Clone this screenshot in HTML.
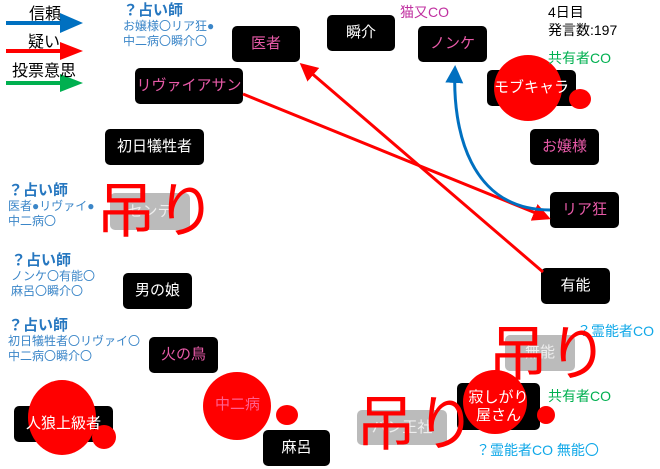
<!DOCTYPE html>
<html><head><meta charset="utf-8"><style>
body{margin:0;width:660px;height:469px;background:#fff;position:relative;overflow:hidden;font-family:"Liberation Sans","Noto Sans CJK JP",sans-serif}
.n{position:absolute;background:#000;border-radius:5px;color:#fff;font-size:15px;display:flex;align-items:center;justify-content:center;line-height:1.2;text-align:center}
.p{color:#e85aa8}
.g{background:#bbb;color:#eee}
.t{position:absolute;font-size:12px;color:#3b86c8;line-height:15px;white-space:nowrap}
.t b{font-size:15px;color:#2677c0}
.h{position:absolute;color:#f00;font-size:60px;font-weight:normal;line-height:1;white-space:nowrap}
.b{position:absolute;background:#f00;border-radius:50%}
svg{position:absolute;left:0;top:0}
</style></head><body>
<div class="n p" style="left:232px;top:26px;width:68px;height:36px">医者</div>
<div class="n" style="left:327px;top:15px;width:68px;height:36px">瞬介</div>
<div class="n p" style="left:418px;top:26px;width:69px;height:36px">ノンケ</div>
<div class="n" style="left:487px;top:70px;width:89px;height:36px">モブキャラ</div>
<div class="n p" style="left:530px;top:129px;width:69px;height:36px">お嬢様</div>
<div class="n p" style="left:550px;top:192px;width:69px;height:36px">リア狂</div>
<div class="n p" style="left:135px;top:68px;width:108px;height:36px">リヴァイアサン</div>
<div class="n" style="left:105px;top:129px;width:99px;height:36px">初日犠牲者</div>
<div class="n g" style="left:110px;top:193px;width:80px;height:37px">センテ</div>
<div class="n" style="left:123px;top:273px;width:69px;height:36px">男の娘</div>
<div class="n" style="left:541px;top:268px;width:69px;height:36px">有能</div>
<div class="n p" style="left:149px;top:337px;width:69px;height:36px">火の鳥</div>
<div class="n g" style="left:505px;top:335px;width:70px;height:36px">無能</div>
<div class="n" style="left:14px;top:406px;width:99px;height:36px">人狼上級者</div>
<div class="n" style="left:263px;top:430px;width:67px;height:36px">麻呂</div>
<div class="n g" style="left:357px;top:410px;width:90px;height:35px">パン王社</div>
<div class="n" style="left:457px;top:383px;width:83px;height:47px">寂しがり<br>屋さん</div>

<div class="b" style="left:494px;top:55px;width:68px;height:66px"></div>
<div class="b" style="left:569px;top:89px;width:22px;height:20px"></div>
<div class="b" style="left:28px;top:380px;width:68px;height:75px"></div>
<div class="b" style="left:92px;top:425px;width:24px;height:24px"></div>
<div class="b" style="left:203px;top:372px;width:68px;height:68px"></div>
<div class="b" style="left:276px;top:405px;width:22px;height:20px"></div>
<div class="b" style="left:463px;top:370px;width:64px;height:64px"></div>
<div class="b" style="left:537px;top:406px;width:18px;height:18px"></div>
<div class="n" style="left:487px;top:70px;width:89px;height:36px;background:none">モブキャラ</div>
<div class="n" style="left:14px;top:406px;width:99px;height:36px;background:none">人狼上級者</div>
<div class="n p" style="left:205px;top:387px;width:65px;height:36px;background:none;color:#ff6090">中二病</div>
<div class="n" style="left:457px;top:383px;width:83px;height:47px;background:none">寂しがり<br>屋さん</div>

<svg width="660" height="469">
<defs>
<marker id="r" markerWidth="6" markerHeight="6" refX="5" refY="3" orient="auto" markerUnits="strokeWidth"><path d="M0,0L6,3L0,6z" fill="#f00"/></marker>
<marker id="bl" markerWidth="6" markerHeight="6" refX="5" refY="3" orient="auto" markerUnits="strokeWidth"><path d="M0,0L6,3L0,6z" fill="#0070c0"/></marker>
</defs>
<line x1="243" y1="94" x2="548" y2="218" stroke="#f00" stroke-width="3" marker-end="url(#r)"/>
<line x1="543" y1="272" x2="302" y2="65" stroke="#f00" stroke-width="3" marker-end="url(#r)"/>
<path d="M550,210 C470,210 452,130 455,68" fill="none" stroke="#0070c0" stroke-width="3" marker-end="url(#bl)"/>
<line x1="6" y1="23" x2="60" y2="23" stroke="#0070c0" stroke-width="4"/><path d="M60,13L83,23L60,33z" fill="#0070c0"/>
<line x1="6" y1="51" x2="60" y2="51" stroke="#f00" stroke-width="4"/><path d="M60,42L83,51L60,60z" fill="#f00"/>
<line x1="6" y1="83" x2="60" y2="83" stroke="#00b050" stroke-width="4"/><path d="M60,74L83,83L60,92z" fill="#00b050"/>
</svg>
<div style="position:absolute;left:29px;top:0px;font-size:16px">信頼</div>
<div style="position:absolute;left:28px;top:28px;font-size:16px">疑い</div>
<div style="position:absolute;left:12px;top:57px;font-size:16px">投票意思</div>

<div class="t" style="left:123px;top:3px"><b>？占い師</b><br>お嬢様〇リア狂●<br>中二病〇瞬介〇</div>
<div class="t" style="left:8px;top:183px"><b>？占い師</b><br>医者●リヴァイ●<br>中二病〇</div>
<div class="t" style="left:11px;top:253px"><b>？占い師</b><br>ノンケ〇有能〇<br>麻呂〇瞬介〇</div>
<div class="t" style="left:8px;top:318px"><b>？占い師</b><br>初日犠牲者〇リヴァイ〇<br>中二病〇瞬介〇</div>
<div style="position:absolute;left:400px;top:2px;color:#c030a0;font-size:14px">猫又CO</div>
<div style="position:absolute;left:548px;top:3px;font-size:14px;line-height:18px">4日目<br>発言数:197</div>
<div style="position:absolute;left:548px;top:48px;color:#00b050;font-size:14px">共有者CO</div>
<div style="position:absolute;left:548px;top:386px;color:#00b050;font-size:14px">共有者CO</div>
<div style="position:absolute;left:577px;top:321px;color:#10a8e8;font-size:14px">？霊能者CO</div>
<div style="position:absolute;left:476px;top:440px;color:#10a8e8;font-size:14px">？霊能者CO 無能〇</div>
<div class="h" style="left:96px;top:182px">吊り</div>
<div class="h" style="left:488px;top:325px">吊り</div>
<div class="h" style="left:356px;top:395px">吊り</div>
</body></html>
